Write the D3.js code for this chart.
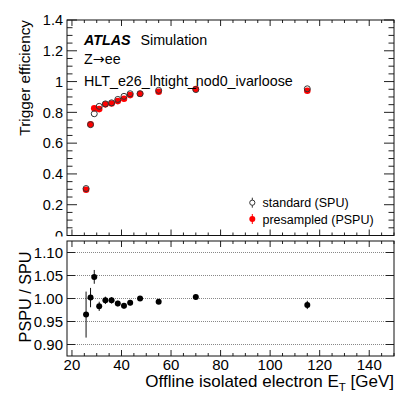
<!DOCTYPE html>
<html>
<head>
<meta charset="utf-8">
<script src="https://cdn.jsdelivr.net/npm/d3@7"></script>
<style>
  body { margin: 0; background: #fff; }
  svg { display: block; font-family: "Liberation Sans", Arial, Helvetica, sans-serif; }
</style>
</head>
<body>
<div class="chart"></div>
<script>
// offline electron ET bin centres [GeV]
const et = [25.7, 27.5, 29, 31, 33.5, 36, 38.5, 41, 43.5, 47.5, 55, 70, 115]
// trigger efficiencies
const effSPU  = [0.305, 0.72, 0.791, 0.839, 0.855, 0.862, 0.884, 0.904, 0.921, 0.921, 0.943, 0.948, 0.953]
const effPSPU = [0.297, 0.722, 0.826, 0.821, 0.852, 0.858, 0.873, 0.888, 0.912, 0.921, 0.934, 0.951, 0.940]
// ratio panel
const ratio    = [0.965, 1.002, 1.047, 0.983, 0.996, 0.996, 0.989, 0.984, 0.991, 1.000, 0.993, 1.003, 0.986]
const ratioErr = [0.05, 0.021, 0.015, 0.01, 0.008, 0.007, 0.006, 0.006, 0.006, 0.005, 0.005, 0.005, 0.009]

const xTicks = [20, 40, 60, 80, 100, 120, 140]
const effTicks = [0, 0.2, 0.4, 0.6, 0.8, 1, 1.2, 1.4]
const effTickLabels = ["0", "0.2", "0.4", "0.6", "0.8", "1", "1.2", "1.4"]
const ratioTicks = [0.90, 0.95, 1.00, 1.05, 1.10]
const ratioTickLabels = ["0.90", "0.95", "1.00", "1.05", "1.10"]

const width = 415, height = 399
const left = 67, right = 394
const top1 = 20, bot1 = 235.5
const top2 = 241, bot2 = 356
const fs = "14.5px"

const x = d3.scaleLinear().domain([18, 150]).range([left, right])
const y1 = d3.scaleLinear().domain([0, 1.4]).range([bot1, top1])
const y2 = d3.scaleLinear().domain([0.875, 1.125]).range([bot2, top2])

const svg = d3.select(".chart").append("svg")
  .attr("width", width)
  .attr("height", height)

svg.append("rect").attr("width", width).attr("height", height).attr("fill", "white")

// x ticks, inward, on top and bottom of a pad
function xTickMarks (g, yTop, yBot, majLen, minLen) {
  const minor = d3.range(20, 151, 5)
  minor.forEach(v => {
    const len = v % 20 === 0 ? majLen : minLen
    g.append("line").attr("x1", x(v)).attr("x2", x(v)).attr("y1", yTop).attr("y2", yTop + len)
    g.append("line").attr("x1", x(v)).attr("x2", x(v)).attr("y1", yBot).attr("y2", yBot - len)
  })
}

function yTickMarks (g, scale, values, len) {
  values.forEach(v => {
    const l = len(v)
    g.append("line").attr("x1", left).attr("x2", left + l).attr("y1", scale(v)).attr("y2", scale(v))
    g.append("line").attr("x1", right).attr("x2", right - l).attr("y1", scale(v)).attr("y2", scale(v))
  })
}

// ---------- top pad ----------
const topPad = svg.append("g")

const tickG1 = topPad.append("g").attr("stroke", "#222").attr("stroke-width", 1)
xTickMarks(tickG1, top1, bot1, 6, 3)
const effMinor = d3.range(0, 1.401, 0.05)
yTickMarks(tickG1, y1, effMinor, v => Math.abs(Math.round(v * 100) % 20) < 0.5 ? 10 : 5.5)

topPad.append("rect")
  .attr("x", left).attr("y", top1)
  .attr("width", right - left).attr("height", bot1 - top1)
  .attr("fill", "none").attr("stroke", "#111").attr("stroke-width", 1)

topPad.selectAll(".effLabel")
  .data(effTicks)
  .enter()
  .append("text")
  .attr("class", "effLabel")
  .attr("x", 63)
  .attr("y", d => y1(d))
  .attr("dy", "0.36em")
  .attr("text-anchor", "end")
  .attr("font-size", fs)
  .text((d, i) => effTickLabels[i])

// SPU open, PSPU red (open markers drawn on top)
topPad.selectAll(".pspu")
  .data(et)
  .enter()
  .append("circle")
  .attr("class", "pspu")
  .attr("cx", d => x(d))
  .attr("cy", (d, i) => y1(effPSPU[i]))
  .attr("r", 3.3)
  .attr("fill", "#f00")

topPad.selectAll(".spu")
  .data(et)
  .enter()
  .append("circle")
  .attr("class", "spu")
  .attr("cx", d => x(d))
  .attr("cy", (d, i) => y1(effSPU[i]))
  .attr("r", 3)
  .attr("fill", "none")
  .attr("stroke", "#333")
  .attr("stroke-width", 1)

// labels
const lab = topPad.append("text").attr("x", 84).attr("y", 44.5).attr("font-size", "14.3px")
lab.append("tspan").attr("font-weight", "bold").attr("font-style", "italic").text("ATLAS")
lab.append("tspan").attr("x", 140.5).text("Simulation")
const zl = topPad.append("text").attr("x", 84).attr("y", 64).attr("font-size", "14.3px")
zl.append("tspan").text("Z")
zl.append("tspan").attr("font-family", "DejaVu Sans").attr("font-size", "14.3px").text("\u2192")
zl.append("tspan").text("ee")
topPad.append("text").attr("x", 84).attr("y", 85.5).attr("font-size", "14.3px").text("HLT_e26_lhtight_nod0_ivarloose")

// legend
const legend = [
  {name: "standard (SPU)", open: true, yy: 202.7},
  {name: "presampled (PSPU)", open: false, yy: 219}
]
legend.forEach(d => {
  const c = d.open ? "#333" : "#f00"
  topPad.append("line").attr("x1", 252.3).attr("x2", 252.3)
    .attr("y1", d.yy - 5).attr("y2", d.yy + 5).attr("stroke", c).attr("stroke-width", 1)
  topPad.append("circle").attr("cx", 252.3).attr("cy", d.yy).attr("r", d.open ? 2.6 : 3)
    .attr("fill", d.open ? "white" : "#f00").attr("stroke", d.open ? c : "none")
  topPad.append("text").attr("x", 262.5).attr("y", d.yy).attr("dy", "0.36em")
    .attr("font-size", "12.5px").text(d.name)
})

topPad.append("text")
  .attr("transform", "translate(29.5," + top1 + ") rotate(-90)")
  .attr("text-anchor", "end")
  .attr("font-size", "15.3px")
  .text("Trigger efficiency")

// ---------- bottom pad ----------
const botPad = svg.append("g")
botPad.append("rect").attr("x", 0).attr("y", 236.5).attr("width", width).attr("height", height - 236.5).attr("fill", "white")

botPad.selectAll(".grid")
  .data(ratioTicks)
  .enter()
  .append("line")
  .attr("class", "grid")
  .attr("x1", left).attr("x2", right)
  .attr("y1", d => y2(d)).attr("y2", d => y2(d))
  .attr("stroke", "#888")
  .attr("stroke-width", 1)
  .attr("stroke-dasharray", "1,1")

const tickG2 = botPad.append("g").attr("stroke", "#222").attr("stroke-width", 1)
xTickMarks(tickG2, top2, bot2, 6, 3)
yTickMarks(tickG2, y2, ratioTicks, () => 8)

botPad.append("rect")
  .attr("x", left).attr("y", top2)
  .attr("width", right - left).attr("height", bot2 - top2)
  .attr("fill", "none").attr("stroke", "#111").attr("stroke-width", 1)

botPad.selectAll(".rLabel")
  .data(ratioTicks)
  .enter()
  .append("text")
  .attr("class", "rLabel")
  .attr("x", 63)
  .attr("y", d => y2(d))
  .attr("dy", "0.36em")
  .attr("text-anchor", "end")
  .attr("font-size", "15px")
  .text((d, i) => ratioTickLabels[i])

botPad.selectAll(".rErr")
  .data(et)
  .enter()
  .append("line")
  .attr("class", "rErr")
  .attr("x1", d => x(d)).attr("x2", d => x(d))
  .attr("y1", (d, i) => y2(ratio[i] + ratioErr[i]))
  .attr("y2", (d, i) => y2(ratio[i] - ratioErr[i]))
  .attr("stroke", "#111")
  .attr("stroke-width", 1)

botPad.selectAll(".rPt")
  .data(et)
  .enter()
  .append("circle")
  .attr("class", "rPt")
  .attr("cx", d => x(d))
  .attr("cy", (d, i) => y2(ratio[i]))
  .attr("r", 3)
  .attr("fill", "#000")

botPad.selectAll(".xLabel")
  .data(xTicks)
  .enter()
  .append("text")
  .attr("class", "xLabel")
  .attr("x", d => x(d))
  .attr("y", 369.5)
  .attr("text-anchor", "middle")
  .attr("font-size", "15px")
  .text(d => d)

const xt = botPad.append("text")
  .attr("x", 394).attr("y", 387)
  .attr("text-anchor", "end")
  .attr("font-size", "17px")
xt.append("tspan").text("Offline isolated electron E")
xt.append("tspan").attr("font-size", "11.5px").attr("dy", 4).text("T")
xt.append("tspan").attr("dy", -4).text(" [GeV]")

botPad.append("text")
  .attr("transform", "translate(31,297) rotate(-90)")
  .attr("text-anchor", "middle")
  .attr("font-size", "16.2px")
  .text("PSPU / SPU")
</script>
</body>
</html>
